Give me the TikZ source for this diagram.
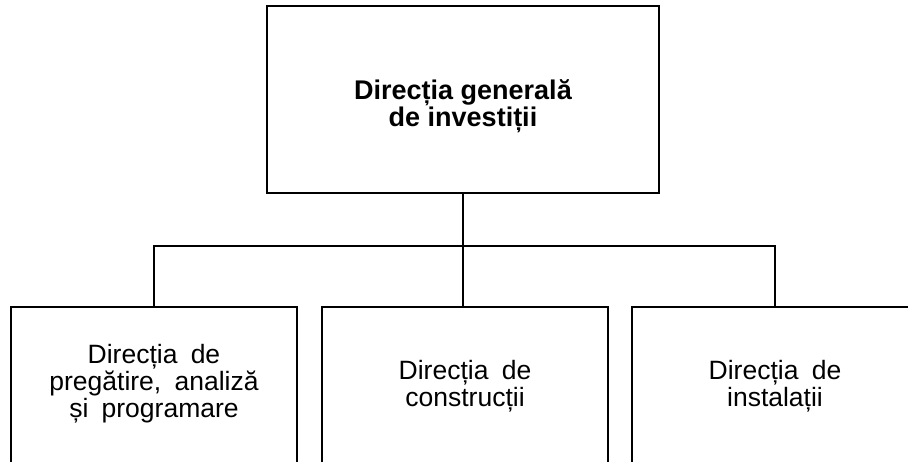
\documentclass[tikz,border=0pt]{standalone}
\usepackage{fontspec}
\setmainfont{Liberation Sans}
\begin{document}
\begin{tikzpicture}[x=1pt,y=-1pt,
  boxstyle/.style={draw, line width=2pt, inner sep=0pt, minimum width=286pt, minimum height=183pt},
  topstyle/.style={draw, line width=2pt, inner sep=0pt, minimum width=392pt, minimum height=187pt},
  conn/.style={line width=1.7pt},
  lbl/.style={align=center, inner sep=0pt, font=\fontsize{26.5}{26.8}\selectfont, execute at begin node={\spaceskip=0.5em plus 0.1em\relax}},
  toplbl/.style={align=center, inner sep=0pt, font=\bfseries\fontsize{27}{24}\selectfont}
]
\useasboundingbox (0,0) rectangle (908,461);
\clip (0,0) rectangle (908,461);
\node[topstyle] (top) at (463,99.5) {};
\node[toplbl] (toptext) at (463,106) {Direcția generală\\de investiții};
\node[boxstyle] (b1) at (154,398.5) {};
\node[boxstyle] (b2) at (465,398.5) {};
\node[boxstyle] (b3) at (775,398.5) {};
\node[lbl] (t1) at (154,383.5) {Direcția de\\pregătire, analiză\\și programare};
\node[lbl] (t2) at (465,386.5) {Direcția de\\construcții};
\node[lbl] (t3) at (775,386.5) {Direcția de\\instalații};
\draw[conn] (b1.north) -- ++(0,-60) -| (b3.north);
\draw[conn] (top.south) -- (top.south |- b2.north);
\end{tikzpicture}
\end{document}
